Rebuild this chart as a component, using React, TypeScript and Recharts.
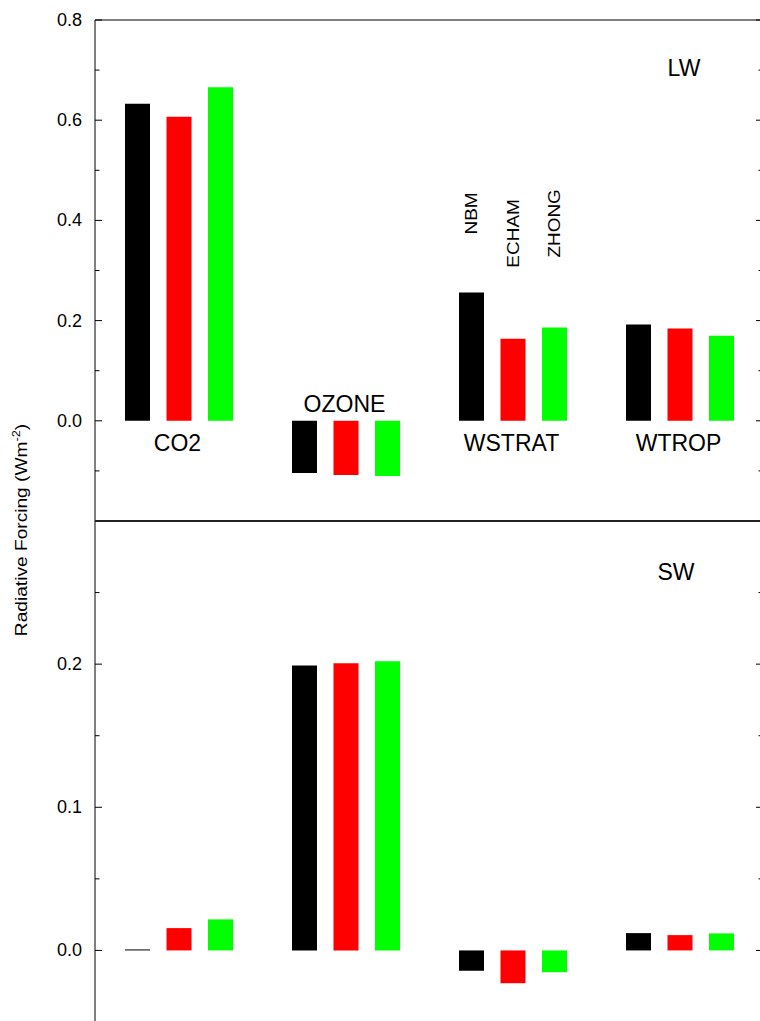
import React from "react";
import { BarChart, Bar, XAxis, YAxis, ReferenceLine, LabelList } from "recharts";

const categories = ["CO2", "OZONE", "WSTRAT", "WTROP"];
const seriesNames = ["NBM", "ECHAM", "ZHONG"];
const seriesColors = ["#000000", "#ff0000", "#00ff00"];
const labelCategory = "WSTRAT";

// Longwave (top panel)
const lwNBM = [0.633, -0.104, 0.256, 0.192];
const lwECHAM = [0.607, -0.108, 0.164, 0.184];
const lwZHONG = [0.666, -0.11, 0.186, 0.17];

// Shortwave (bottom panel)
const swNBM = [0.0007, 0.199, -0.0142, 0.0121];
const swECHAM = [0.0156, 0.2007, -0.0229, 0.0107];
const swZHONG = [0.0217, 0.202, -0.0152, 0.0119];

const lwTicks = [-0.1, 0, 0.1, 0.2, 0.3, 0.4, 0.5, 0.6, 0.7, 0.8];
const lwMajor = [0, 0.2, 0.4, 0.6, 0.8];
const swTicks = [-0.05, 0, 0.05, 0.1, 0.15, 0.2, 0.25];
const swMajor = [0, 0.1, 0.2];

const FONT = "'Liberation Sans', Arial, Helvetica, sans-serif";

const lwData = categories.map((c, i) => ({
  category: c,
  nbm: lwNBM[i],
  echam: lwECHAM[i],
  zhong: lwZHONG[i],
}));
const swData = categories.map((c, i) => ({
  category: c,
  nbm: swNBM[i],
  echam: swECHAM[i],
  zhong: swZHONG[i],
}));

const makeTick = (majors: number[], side: "left" | "right") => (props: any) => {
  const { x, y, payload } = props;
  const v = payload.value as number;
  const isMajor = majors.some((m) => Math.abs(m - v) < 1e-6);
  const len = isMajor ? 7 : 4.5;
  const dir = side === "left" ? 1 : -1;
  return (
    <g>
      <line x1={x} x2={x + dir * len} y1={y} y2={y} stroke="#000" strokeWidth={1} />
      {side === "left" && isMajor && (
        <text
          x={x - 13}
          y={y}
          textAnchor="end"
          dominantBaseline="central"
          fontSize={18}
          fontFamily={FONT}
          fill="#000"
        >
          {v.toFixed(1)}
        </text>
      )}
    </g>
  );
};

const categoryLabel = (values: number[]) => (props: any) => {
  const { x, y, width, height, index } = props;
  const v = values[index];
  const top = Math.min(y, y + height);
  const bottom = Math.max(y, y + height);
  const zeroY = v >= 0 ? bottom : top;
  const ty = v >= 0 ? zeroY + 30.5 : zeroY - 9;
  return (
    <text
      x={x + width / 2 - 1.5}
      y={ty}
      textAnchor="middle"
      fontSize={23}
      fontFamily={FONT}
      fill="#000"
    >
      {categories[index]}
    </text>
  );
};

const seriesOffsets = [58, 71, 70];
const seriesLabel = (s: number) => (props: any) => {
  const { x, y, width, height, index } = props;
  if (categories[index] !== labelCategory) return null;
  const top = Math.min(y, y + height);
  const cx = x + width / 2;
  const cy = top - seriesOffsets[s];
  return (
    <g transform={`translate(${cx},${cy}) rotate(-90) scale(1.15,1)`}>
      <text
        x={0}
        y={0}
        textAnchor="start"
        dominantBaseline="central"
        fontSize={16.5}
        fontFamily={FONT}
        fill="#000"
      >
        {seriesNames[s]}
      </text>
    </g>
  );
};

export default function App() {
  return (
    <div
      style={{
        position: "absolute",
        left: 0,
        top: 0,
        width: 760,
        height: 1021,
        overflow: "hidden",
        background: "#fff",
      }}
    >
      <div style={{ position: "absolute", left: 0, top: 0 }}>
        <BarChart
          width={764}
          height={522}
          data={lwData}
          margin={{ top: 20, right: 0, bottom: 1, left: 0 }}
          barSize={25}
          barGap={16.5}
        >
          <XAxis
            dataKey="category"
            tick={false}
            tickLine={false}
            height={0}
            axisLine={{ stroke: "#222", strokeWidth: 2 }}
          />
          <YAxis
            yAxisId="l"
            type="number"
            domain={[-0.2, 0.8]}
            ticks={lwTicks}
            interval={0}
            width={95}
            tickSize={0}
            tickMargin={0}
            tickLine={false}
            axisLine={{ stroke: "#000" }}
            tick={makeTick(lwMajor, "left")}
            allowDataOverflow
          />
          <YAxis
            yAxisId="r"
            orientation="right"
            type="number"
            domain={[-0.2, 0.8]}
            ticks={lwTicks}
            interval={0}
            width={1}
            tickSize={0}
            tickMargin={0}
            tickLine={false}
            axisLine={{ stroke: "#000" }}
            tick={makeTick(lwMajor, "right")}
            allowDataOverflow
          />
          <ReferenceLine yAxisId="l" y={0.8} stroke="#000" strokeWidth={1} />
          <Bar yAxisId="l" dataKey="nbm" fill={seriesColors[0]} isAnimationActive={false}>
            <LabelList dataKey="nbm" content={seriesLabel(0)} />
          </Bar>
          <Bar yAxisId="l" dataKey="echam" fill={seriesColors[1]} isAnimationActive={false}>
            <LabelList dataKey="echam" content={seriesLabel(1)} />
            <LabelList dataKey="category" content={categoryLabel(lwECHAM)} />
          </Bar>
          <Bar yAxisId="l" dataKey="zhong" fill={seriesColors[2]} isAnimationActive={false}>
            <LabelList dataKey="zhong" content={seriesLabel(2)} />
          </Bar>
        </BarChart>
      </div>
      <div style={{ position: "absolute", left: 0, top: 521 }}>
        <BarChart
          width={764}
          height={501}
          data={swData}
          margin={{ top: 0, right: 0, bottom: 0, left: 0 }}
          barSize={25}
          barGap={16.5}
        >
          <XAxis dataKey="category" hide />
          <YAxis
            yAxisId="l"
            type="number"
            domain={[-0.05, 0.3]}
            ticks={swTicks}
            interval={0}
            width={95}
            tickSize={0}
            tickMargin={0}
            tickLine={false}
            axisLine={{ stroke: "#000" }}
            tick={makeTick(swMajor, "left")}
            allowDataOverflow
          />
          <YAxis
            yAxisId="r"
            orientation="right"
            type="number"
            domain={[-0.05, 0.3]}
            ticks={swTicks}
            interval={0}
            width={1}
            tickSize={0}
            tickMargin={0}
            tickLine={false}
            axisLine={{ stroke: "#000" }}
            tick={makeTick(swMajor, "right")}
            allowDataOverflow
          />
          <Bar yAxisId="l" dataKey="nbm" fill={seriesColors[0]} isAnimationActive={false} />
          <Bar yAxisId="l" dataKey="echam" fill={seriesColors[1]} isAnimationActive={false} />
          <Bar yAxisId="l" dataKey="zhong" fill={seriesColors[2]} isAnimationActive={false} />
        </BarChart>
      </div>
      <svg
        width={760}
        height={1021}
        style={{ position: "absolute", left: 0, top: 0, pointerEvents: "none" }}
      >
        <line x1={95} x2={764} y1={521} y2={521} stroke="#222" strokeWidth={2} />
        <text x={684} y={76} textAnchor="middle" fontSize={23} fontFamily={FONT} fill="#000">
          LW
        </text>
        <text x={676} y={580} textAnchor="middle" fontSize={23} fontFamily={FONT} fill="#000">
          SW
        </text>
        <g transform="translate(27,530) rotate(-90) scale(1.16,1)">
          <text x={0} y={0} textAnchor="middle" fontSize={16.5} fontFamily={FONT} fill="#000">
            Radiative Forcing (Wm
            <tspan dy={-7} fontSize={11}>
              -2
            </tspan>
            <tspan dy={7}>)</tspan>
          </text>
        </g>
      </svg>
    </div>
  );
}
